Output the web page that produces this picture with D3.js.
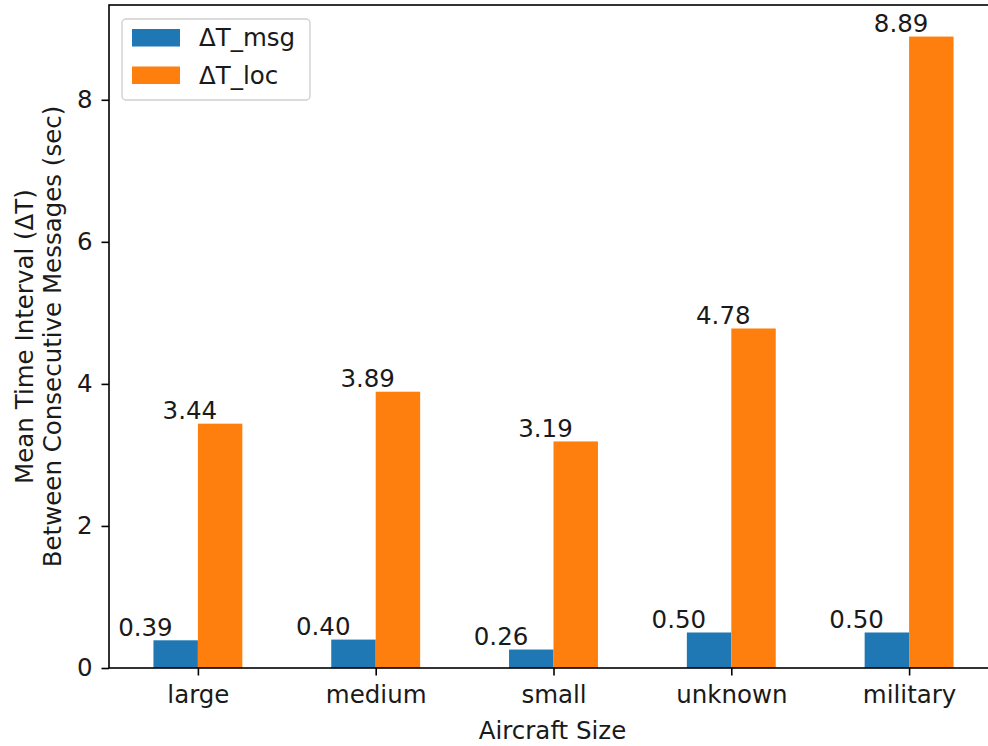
<!DOCTYPE html>
<html>
<head>
<meta charset="utf-8">
<script src="https://cdn.jsdelivr.net/npm/d3@7"></script>
<style>
  html, body { margin: 0; padding: 0; background: #fff; }
  svg { display: block; font-family: "DejaVu Sans", sans-serif; }
</style>
</head>
<body>
<svg id="chart" width="988" height="746"></svg>
<script>
// Aircraft size categories and mean intervals per series
const categories = ["large", "medium", "small", "unknown", "military"];
const msgValues = [0.39, 0.40, 0.26, 0.50, 0.50];
const locValues = [3.44, 3.89, 3.19, 4.78, 8.89];
const seriesNames = ["ΔT_msg", "ΔT_loc"];
const seriesColors = ["#1f77b4", "#ff7f0e"];
const yTicks = [0, 2, 4, 6, 8];

const svg = d3.select("#chart");
const fontSize = 24.5;
const textColor = "#1a1a1a";

// plot area (the right side of the axes box runs past the canvas)
const plotLeft = 109, plotRight = 998, plotTop = 5, plotBottom = 668;
const barWidth = 0.25;

const x = d3.scaleLinear().domain([-0.5, categories.length - 0.5]).range([plotLeft, plotRight]);
const yMax = d3.max(locValues.concat(msgValues)) * 1.05;
const y = d3.scaleLinear().domain([0, yMax]).range([plotBottom, plotTop]);

const series = [msgValues, locValues];
const offsets = [-barWidth / 2, barWidth / 2];

// bars, with each value label centred just left of its bar's left edge
series.forEach((vals, si) => {
  const g = svg.append("g");
  const x0 = i => x(i + offsets[si] - barWidth / 2);
  const x1 = i => x(i + offsets[si] + barWidth / 2);
  g.selectAll("rect")
    .data(vals)
    .join("rect")
    .attr("x", (d, i) => x0(i))
    .attr("width", (d, i) => x1(i) - x0(i))
    .attr("y", d => y(d))
    .attr("height", d => y(0) - y(d))
    .attr("fill", seriesColors[si]);
  g.selectAll("text")
    .data(vals)
    .join("text")
    .attr("x", (d, i) => x0(i) - 8)
    .attr("y", d => y(d) - 4.5)
    .attr("text-anchor", "middle")
    .attr("font-size", fontSize)
    .attr("fill", textColor)
    .text(d => d.toFixed(2));
});

// axes
const xAxis = d3.axisBottom(x)
  .tickValues(d3.range(categories.length))
  .tickFormat(i => categories[i])
  .tickSize(7.5).tickPadding(10);
const gx = svg.append("g").attr("transform", `translate(0,${plotBottom})`).call(xAxis);

const yAxis = d3.axisLeft(y)
  .tickValues(yTicks)
  .tickFormat(d3.format("d"))
  .tickSize(7.5).tickPadding(9);
const gy = svg.append("g").attr("transform", `translate(${plotLeft},0)`).call(yAxis);

[gx, gy].forEach(g => {
  g.select(".domain").remove();
  g.selectAll(".tick line").attr("stroke", "#000").attr("stroke-width", 1.6);
  g.selectAll(".tick text").attr("font-size", fontSize).attr("fill", textColor)
    .attr("font-family", "DejaVu Sans, sans-serif");
});

// axes frame
svg.append("rect")
  .attr("x", plotLeft).attr("y", plotTop)
  .attr("width", plotRight - plotLeft).attr("height", plotBottom - plotTop)
  .attr("fill", "none").attr("stroke", "#000").attr("stroke-width", 1.6);

// axis titles
svg.append("text")
  .attr("x", (plotLeft + plotRight) / 2 - 1).attr("y", 739)
  .attr("text-anchor", "middle").attr("font-size", fontSize).attr("fill", textColor)
  .text("Aircraft Size");

const yLabel = svg.append("text")
  .attr("transform", `translate(0,${(plotTop + plotBottom) / 2}) rotate(-90)`)
  .attr("text-anchor", "middle").attr("font-size", fontSize).attr("fill", textColor);
yLabel.append("tspan").attr("x", 0).attr("y", 33).text("Mean Time Interval (ΔT)");
yLabel.append("tspan").attr("x", 0).attr("y", 61).text("Between Consecutive Messages (sec)");

// legend
const legend = svg.append("g");
legend.append("rect")
  .attr("x", 122).attr("y", 19).attr("width", 188).attr("height", 81)
  .attr("rx", 4).attr("fill", "#fff").attr("fill-opacity", 0.8)
  .attr("stroke", "#d0d0d0").attr("stroke-width", 1.4);
seriesNames.forEach((name, i) => {
  const rowTop = 29 + i * 37.5;
  legend.append("rect")
    .attr("x", 132).attr("y", rowTop).attr("width", 48).attr("height", 17.5)
    .attr("fill", seriesColors[i]);
  legend.append("text")
    .attr("x", 199).attr("y", rowTop + 17)
    .attr("font-size", fontSize).attr("fill", textColor)
    .text(name);
});
</script>
</body>
</html>
